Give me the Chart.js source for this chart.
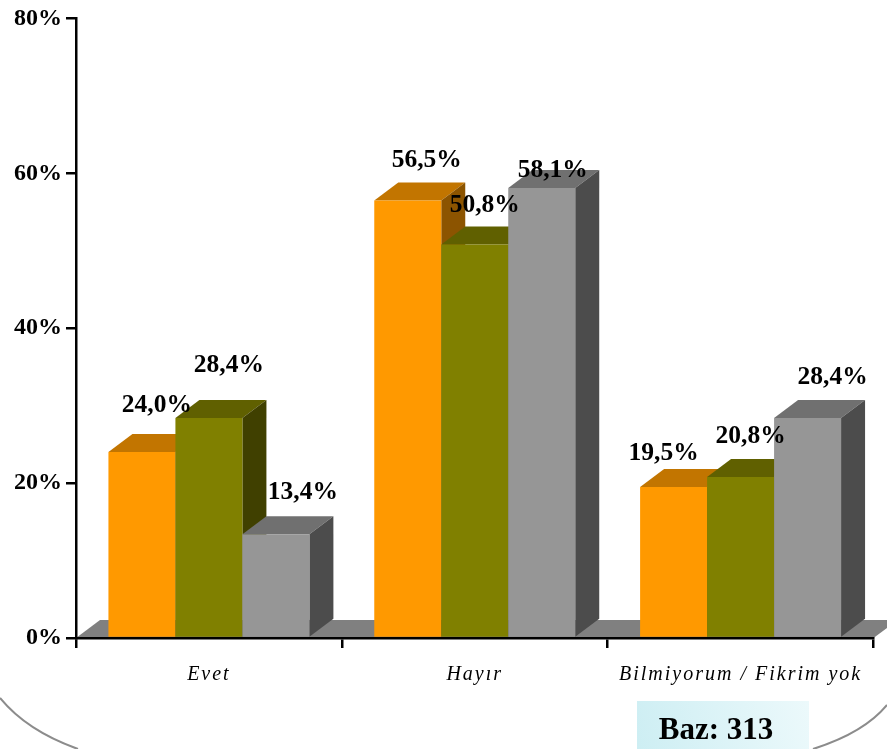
<!DOCTYPE html>
<html>
<head>
<meta charset="utf-8">
<title>Baz: 313</title>
<style>
  html, body { margin: 0; padding: 0; background: #fff; }
  canvas { display: block; }
</style>
<script src="https://cdn.jsdelivr.net/npm/chart.js@4"></script>
</head>
<body>
<canvas id="mychart" width="887" height="749"></canvas>
<script>
const categories = ['Evet', 'Hayır', 'Bilmiyorum / Fikrim yok'];
const orangeValues = [24.0, 56.5, 19.5];
const oliveValues = [28.4, 50.8, 20.8];
const grayValues = [13.4, 58.1, 28.4];
const yTickLabels = ['0%', '20%', '40%', '60%', '80%'];

// hand placed in the original, so offsets from each bar's centre and top
const labelDx = [[15, 20, 27], [19, 10, 11], [-10, 10, 25]];
const labelDy = [[-47, -53, -42], [-40, -39, -18], [-34, -40, -41]];

const frontColors = ['#ff9900', '#808000', '#969696'];
const topColors = ['#c27500', '#606000', '#707070'];
const sideColors = ['#8c5400', '#404000', '#4c4c4c'];
const depthX = 24;
const depthY = 18;

const poly = (ctx, pts, color) => {
    ctx.fillStyle = color;
    ctx.beginPath();
    pts.forEach((p, i) => i ? ctx.lineTo(p[0], p[1]) : ctx.moveTo(p[0], p[1]));
    ctx.closePath();
    ctx.fill();
};

const bars3d = {
    id: 'bars3d',
    beforeDraw(chart) {
        const ctx = chart.ctx;
        // rounded frame at the bottom of the slide
        ctx.save();
        ctx.strokeStyle = '#8c8c8c';
        ctx.lineWidth = 2;
        ctx.beginPath();
        ctx.moveTo(0, 698);
        ctx.quadraticCurveTo(27, 731, 78, 749);
        ctx.moveTo(813, 749);
        ctx.quadraticCurveTo(864, 733, 887, 705);
        ctx.stroke();
        // base box
        const grad = ctx.createLinearGradient(637, 749, 809, 701);
        grad.addColorStop(0, '#cdeef3');
        grad.addColorStop(1, '#ecf9fb');
        ctx.fillStyle = grad;
        ctx.fillRect(637, 701, 172, 48);
        ctx.fillStyle = '#000';
        ctx.font = 'bold 31px "Liberation Serif"';
        ctx.textAlign = 'center';
        ctx.textBaseline = 'middle';
        ctx.fillText('Baz: 313', 716, 731);
        ctx.restore();
        // only the category labels are drawn before the bars
        ctx.letterSpacing = '2px';
    },
    beforeDatasetsDraw(chart) {
        const ctx = chart.ctx;
        const area = chart.chartArea;
        ctx.letterSpacing = '0px';
        // floor
        poly(ctx, [[area.left, area.bottom], [area.left + depthX, area.bottom - depthY],
            [area.right + depthX, area.bottom - depthY], [area.right, area.bottom]], '#808080');
        chart.data.datasets.forEach((ds, d) => {
            chart.getDatasetMeta(d).data.forEach(bar => {
                const l = bar.x - bar.width / 2;
                const r = bar.x + bar.width / 2;
                const t = bar.y;
                const b = bar.base;
                poly(ctx, [[l, t], [l + depthX, t - depthY], [r + depthX, t - depthY], [r, t]], topColors[d]);
                poly(ctx, [[r, t], [r + depthX, t - depthY], [r + depthX, b - depthY], [r, b]], sideColors[d]);
                bar.draw(ctx, area);
            });
        });
        return false;
    },
    // returning false above also skips afterDatasetsDraw, so labels go here
    afterDraw(chart) {
        const ctx = chart.ctx;
        ctx.save();
        ctx.fillStyle = '#000';
        ctx.font = 'bold 25.5px "Liberation Serif"';
        ctx.textAlign = 'center';
        ctx.textBaseline = 'middle';
        chart.data.datasets.forEach((ds, d) => {
            chart.getDatasetMeta(d).data.forEach((bar, c) => {
                const txt = ds.data[c].toFixed(1).replace('.', ',') + '%';
                ctx.fillText(txt, bar.x + labelDx[c][d], bar.y + labelDy[c][d]);
            });
        });
        ctx.restore();
    }
};

const ctx = document.getElementById('mychart').getContext('2d');
const mychart = new Chart(ctx, {
    type: 'bar',
    data: {
        labels: categories,
        datasets: [
            { data: orangeValues, backgroundColor: frontColors[0] },
            { data: oliveValues, backgroundColor: frontColors[1] },
            { data: grayValues, backgroundColor: frontColors[2] }
        ]
    },
    options: {
        responsive: false,
        animation: false,
        categoryPercentage: 0.756,
        barPercentage: 1,
        layout: { padding: { top: 15, right: 13.5, left: 0, bottom: 0 } },
        plugins: { legend: { display: false }, tooltip: { enabled: false } },
        scales: {
            x: {
                afterFit: scale => { scale.height = 111; },
                grid: { drawOnChartArea: false, color: '#000', lineWidth: 2.5, tickLength: 10, z: 1 },
                border: { color: '#000', width: 2.5, z: 1 },
                ticks: {
                    z: -1,
                    color: '#000',
                    padding: 15,
                    autoSkip: false,
                    maxRotation: 0,
                    font: { family: '"Liberation Serif"', size: 20, style: 'italic' }
                }
            },
            y: {
                min: 0,
                max: 80,
                afterFit: scale => { scale.width = 76; },
                grid: { drawOnChartArea: false, color: '#000', lineWidth: 2.5, tickLength: 10, z: 1 },
                border: { color: '#000', width: 2.5, z: 1 },
                ticks: {
                    z: 1,
                    stepSize: 20,
                    color: '#000',
                    padding: 4,
                    font: { family: '"Liberation Serif"', size: 24, weight: 'bold' },
                    callback: (v, i) => yTickLabels[i]
                }
            }
        }
    },
    plugins: [bars3d]
});
</script>
</body>
</html>
